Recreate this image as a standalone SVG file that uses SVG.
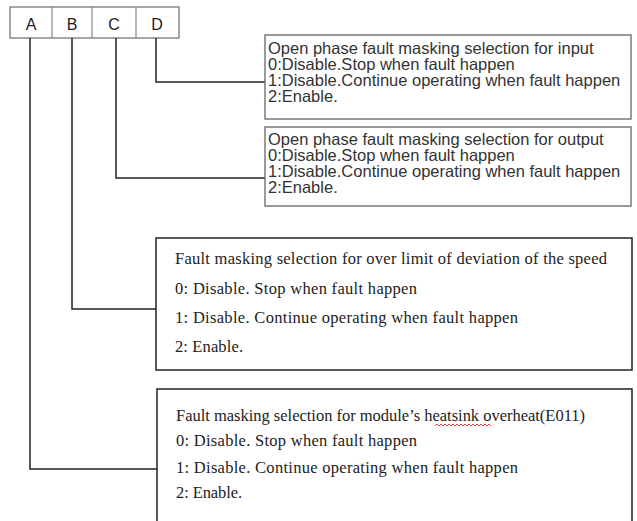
<svg xmlns="http://www.w3.org/2000/svg" width="637" height="521" viewBox="0 0 637 521">
<style>
.bg{fill:#ffffff}
.hdr{fill:#fff;stroke:#777;stroke-width:1.3}
.lt{font-family:"Liberation Sans",Arial,sans-serif;font-size:16px;fill:#222;text-anchor:middle}
.b1{fill:#fff;stroke:#666;stroke-width:1.3}
.b2{fill:#fff;stroke:#222;stroke-width:1.5}
.sans{font-family:"Liberation Sans",Arial,sans-serif;font-size:16.5px;fill:#333}
.serif{font-family:"Liberation Serif","Times New Roman",serif;font-size:16.5px;fill:#222}
.conn{fill:none;stroke:#222;stroke-width:1.5}
</style>
<rect class="bg" x="0" y="0" width="637" height="521"/>
<g id="header">
<rect class="hdr" x="10" y="7" width="169" height="31"/>
<line x1="52" y1="7" x2="52" y2="38" stroke="#888" stroke-width="1.2"/>
<line x1="92" y1="7" x2="92" y2="38" stroke="#888" stroke-width="1.2"/>
<line x1="136" y1="7" x2="136" y2="38" stroke="#888" stroke-width="1.2"/>
<text class="lt" x="31" y="30">A</text>
<text class="lt" x="72" y="30">B</text>
<text class="lt" x="114" y="30">C</text>
<text class="lt" x="157" y="30">D</text>
</g>
<g id="connectors">
<path class="conn" d="M30,38 V469 H157"/>
<path class="conn" d="M72,38 V309 H156"/>
<path class="conn" d="M116,38 V178 H265"/>
<path class="conn" d="M156,38 V82 H265"/>
</g>
<g id="boxD">
<rect class="b1" x="265" y="35" width="366" height="84"/>
<text class="sans" x="268" y="54">Open phase fault masking selection for input</text>
<text class="sans" x="268" y="70">0:Disable.Stop when fault happen</text>
<text class="sans" x="268" y="86">1:Disable.Continue operating when fault happen</text>
<text class="sans" x="268" y="102">2:Enable.</text>
</g>
<g id="boxC">
<rect class="b1" x="265" y="127" width="366" height="79"/>
<text class="sans" x="268" y="145">Open phase fault masking selection for output</text>
<text class="sans" x="268" y="161">0:Disable.Stop when fault happen</text>
<text class="sans" x="268" y="177">1:Disable.Continue operating when fault happen</text>
<text class="sans" x="268" y="193">2:Enable.</text>
</g>
<g id="boxB">
<rect class="b2" x="156" y="238" width="476" height="132"/>
<text class="serif" x="175" y="264" textLength="432" lengthAdjust="spacing">Fault masking selection for over limit of deviation of the speed</text>
<text class="serif" x="175" y="294" textLength="242" lengthAdjust="spacing">0: Disable. Stop when fault happen</text>
<text class="serif" x="175" y="323" textLength="343" lengthAdjust="spacing">1: Disable. Continue operating when fault happen</text>
<text class="serif" x="175" y="352" textLength="68" lengthAdjust="spacing">2: Enable.</text>
</g>
<g id="boxA">
<rect class="b2" x="157" y="389" width="475" height="140"/>
<text class="serif" x="176" y="421" textLength="409" lengthAdjust="spacing">Fault masking selection for module’s heatsink overheat(E011)</text>
<path d="M435,426 l2,-2 l2,2 l2,-2 l2,2 l2,-2 l2,2 l2,-2 l2,2 l2,-2 l2,2 l2,-2 l2,2 l2,-2 l2,2 l2,-2 l2,2 l2,-2 l2,2 l2,-2 l2,2 l2,-2 l2,2 l2,-2 l2,2 l2,-2 l2,2 l2,-2 l2,2" fill="none" stroke="#d33" stroke-width="0.9"/>
<text class="serif" x="176" y="446" textLength="241" lengthAdjust="spacing">0: Disable. Stop when fault happen</text>
<text class="serif" x="176" y="473" textLength="342" lengthAdjust="spacing">1: Disable. Continue operating when fault happen</text>
<text class="serif" x="176" y="498" textLength="66" lengthAdjust="spacing">2: Enable.</text>
</g>
</svg>
